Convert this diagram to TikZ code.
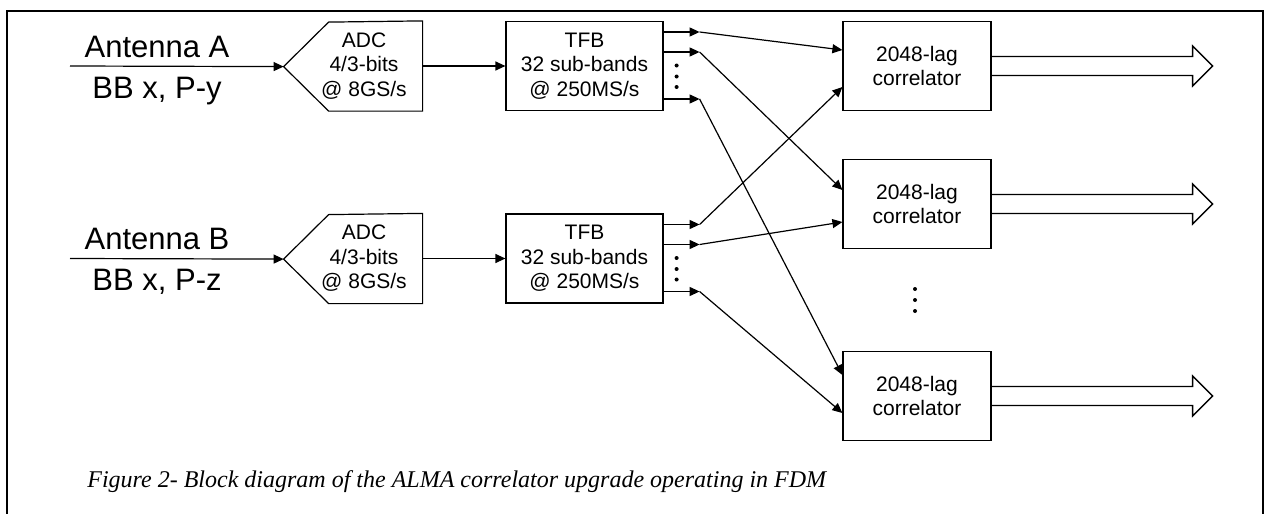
\documentclass[tikz,border=0pt]{standalone}
\usepackage{fontspec}
\setmainfont{Liberation Sans}
\newfontfamily\capfont{Liberation Serif}
\usetikzlibrary{arrows.meta,calc,positioning}

\begin{document}
\begin{tikzpicture}[x=0.5pt,y=-0.5pt,
    blk/.style={draw,line width=0.6pt,minimum height=44.5pt,inner sep=0pt,
                align=center,font=\fontsize{10.5}{12.3}\selectfont},
    adc/.style={blk,draw=none,minimum width=58pt},
    tfb/.style={blk,minimum width=78.5pt},
    cor/.style={blk,minimum width=74pt},
    sig/.style={-{Triangle[length=5pt,width=4.5pt]},line width=0.6pt},
    fat/.style={line width=0.7pt,line join=miter},
    lbl/.style={font=\fontsize{15.5}{18}\selectfont,anchor=base,inner sep=0pt}]
  \useasboundingbox (0,0) rectangle (1270,514);
  \draw[line width=1pt] (7,514) -- (7,11) -- (1263,11) -- (1263,514);

  % the two antenna chains
  \foreach \ant/\pol/\yy in {A/y/66,B/z/258.5} {
    \node[lbl] (ant\ant) at (157,\yy-9) {Antenna \ant};
    \node[lbl] (pol\ant) at (157,\yy+32) {BB x, P-\pol};
    \coordinate (in\ant) at (70,\yy);
    \node[adc] (adc\ant) at (364,\yy) {ADC\\4/3-bits\\@ 8GS/s};
    \draw[line width=0.6pt] (adc\ant.north east) -- (adc\ant.south east) -- ++(-94,0)
      -- ++(-45,-44.5) coordinate (tip\ant) -- ++(45,-44.5) -- cycle;
    \draw[sig] (in\ant) -- (tip\ant);
    \node[tfb] (tfb\ant) at (584.5,\yy) {TFB\\32 sub-bands\\@ 250MS/s};
    \draw[sig] (adc\ant.east) -- (tfb\ant.west);
    \foreach \k/\dy in {1/-34,2/-14,3/33} {
      \coordinate (out\ant\k) at ($(tfb\ant.east)+(36,\dy)$);
      \draw[sig] (tfb\ant.east |- out\ant\k) -- (out\ant\k);
    }
    \foreach \dy in {-0.5,10.5,21}
      \fill ($(tfb\ant.east)+(13,\dy)$) circle (2);
  }

  % correlators
  \node[cor] (cor1) at (917,66) {2048-lag\\correlator};
  \node[cor] (cor2) at (917,204) {2048-lag\\correlator};
  \node[cor] (cor3) at (917,396) {2048-lag\\correlator};
  \foreach \dy in {289,300,311}
    \fill (915,\dy) circle (2);

  \draw[sig] (outA1) -- ($(cor1.west)+(0,-16)$);
  \draw[sig] (outA2) -- ($(cor2.west)+(0,-14)$);
  \draw[sig] (outA3) -- ($(cor3.west)+(0,-21)$);
  \draw[sig] (outB1) -- ($(cor1.west)+(0,21)$);
  \draw[sig] (outB2) -- ($(cor2.west)+(0,18)$);
  \draw[sig] (outB3) -- ($(cor3.west)+(0,17)$);

  % wide outputs
  \foreach \c in {cor1,cor2,cor3}
    \draw[fat] (\c.east) ++(0,-9.5) -- ++(201,0) -- ++(0,-10.5) -- ++(20,20)
      -- ++(-20,20) -- ++(0,-10.5) -- ++(-201,0);

  \node[anchor=base west,inner sep=0pt,font=\capfont\itshape\fontsize{12}{14}\selectfont]
    (cap) at (87,487) {Figure 2- Block diagram of the ALMA correlator upgrade operating in FDM};
\end{tikzpicture}
\end{document}
